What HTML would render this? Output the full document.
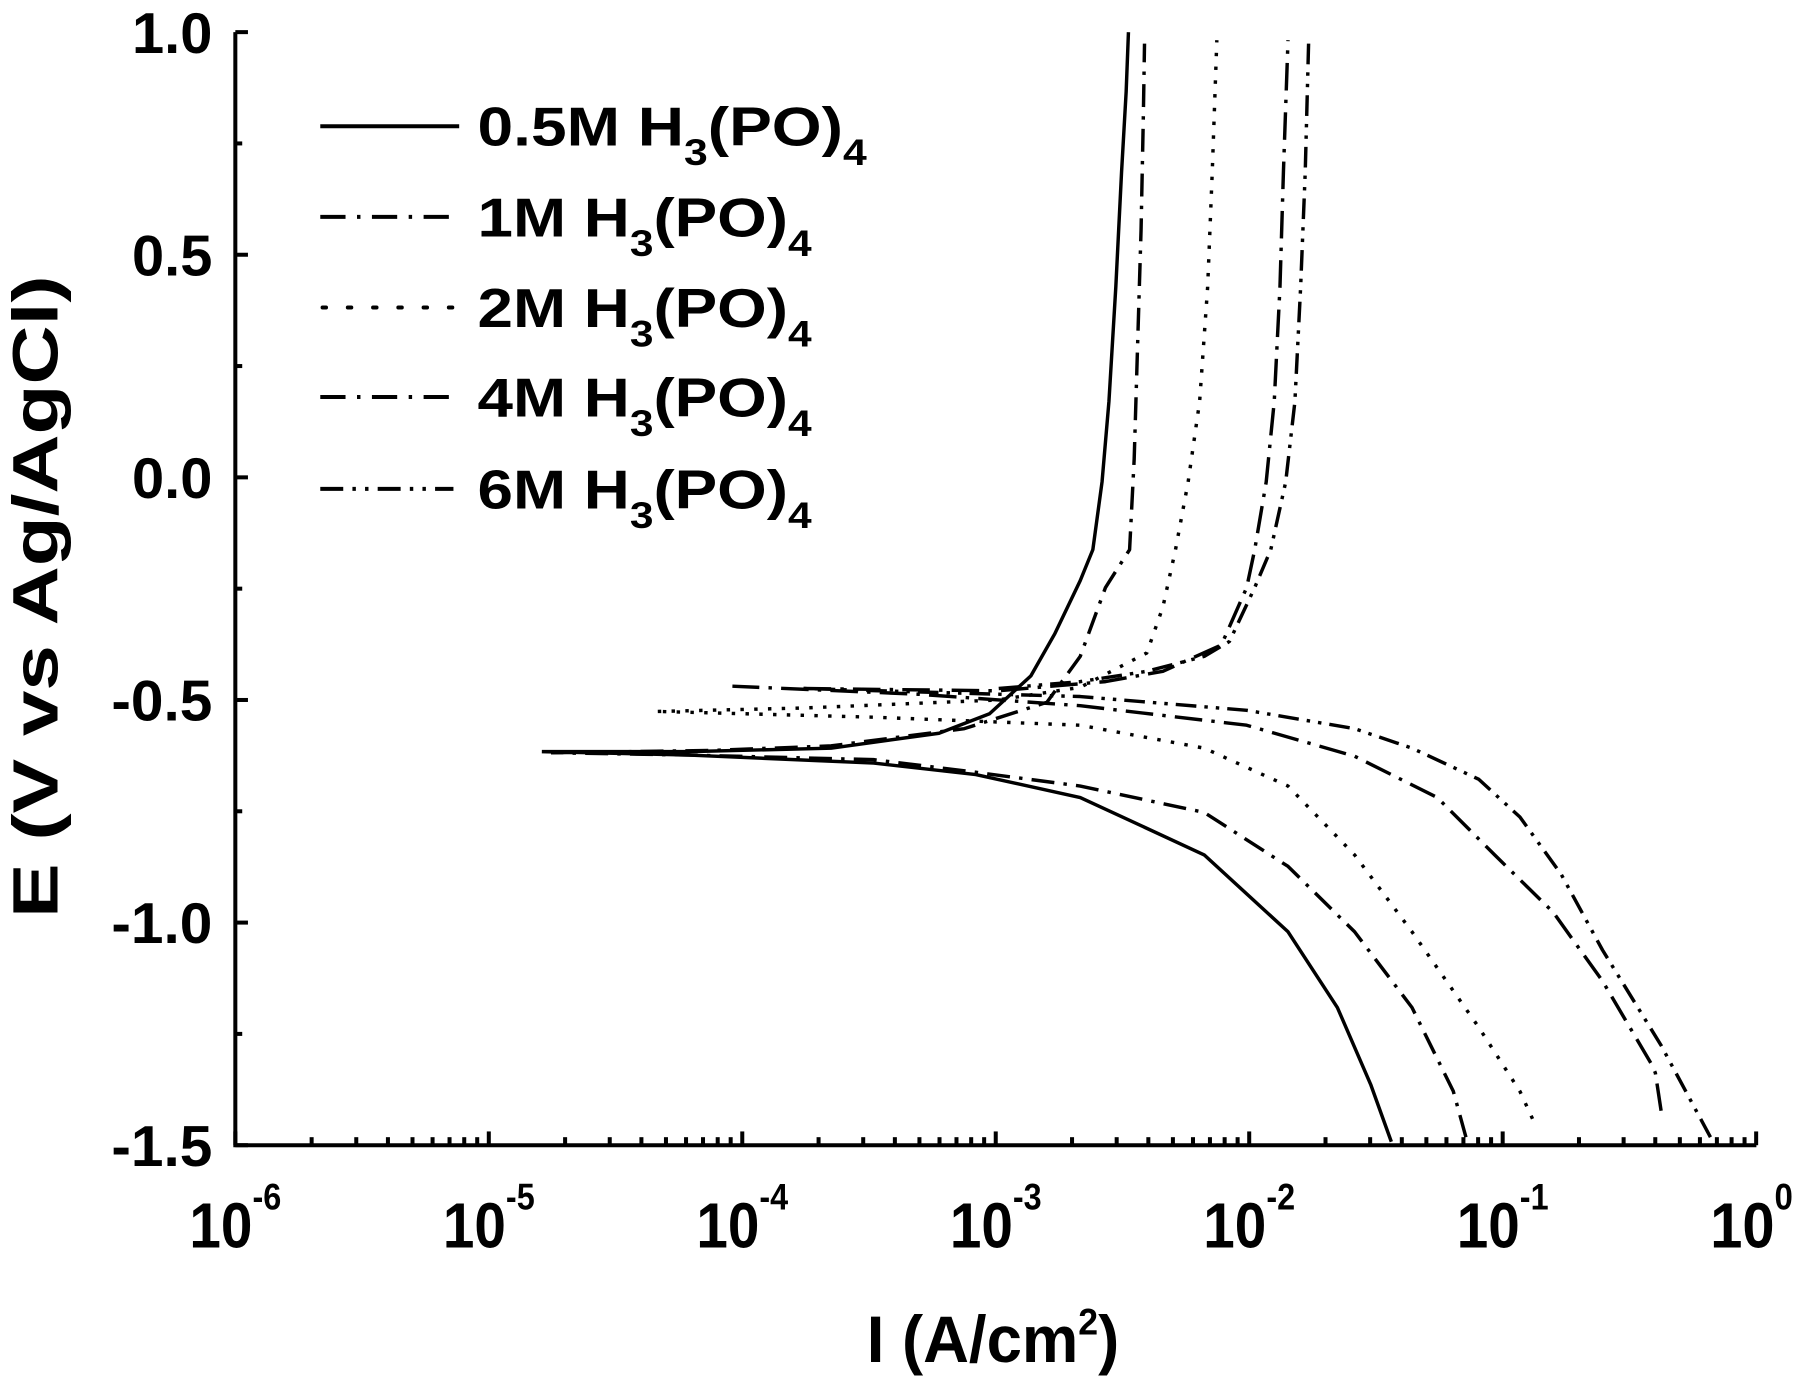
<!DOCTYPE html>
<html><head><meta charset="utf-8"><style>
html,body{margin:0;padding:0;background:#fff}
svg{display:block}
text{font-family:"Liberation Sans",Arial,sans-serif;font-weight:bold;fill:#000}
</style></head><body>
<svg id="s" width="1800" height="1377" viewBox="0 0 1568 1200" preserveAspectRatio="none">
<g fill="none" stroke="#000" stroke-width="3" stroke-linejoin="round">
<!-- 0.5M solid -->
<path d="M1212,995 L1194,945 1165,878 1122,812 1049,745 941,695 850,675 761,665 600,658 472,655 M472,655 L600,655 724,652 818,639 862,622 898,589 919,552 941,506 952,479 960,420 966,350 972,250 977,150 981,80 983,28"/>
<!-- 1M dash-dot -->
<path stroke-dasharray="20,8,3,8" d="M1277,991 L1266,951 1230,878 1180,812 1122,755 1049,708 941,685 850,673 761,662 600,658 480,656 M480,656 L620,654 724,650 840,635 912,612 941,572 963,512 984,479 988,400 991,300 994,200 996,100 997,38"/>
<!-- 2M dotted -->
<path stroke-dasharray="3,9" d="M1335,975 L1324,951 1288,895 1230,812 1180,745 1122,685 1049,652 941,632 761,625 573,620 M573,620 L700,617 869,610 941,599 999,569 1013,529 1024,479 1035,420 1045,350 1052,250 1056,150 1060,35"/>
<!-- 4M dash-dot -->
<path stroke-dasharray="24,8,3,8" d="M1447,968 L1442,935 1439,928 1396,855 1353,795 1302,745 1252,695 1180,659 1086,632 941,615 800,605 638,598 M700,600 L869,602 963,594 1013,585 1064,562 1086,512 1093,479 1103,420 1110,350 1115,250 1118,150 1122,35"/>
<!-- 6M dash-dot-dot -->
<path stroke-dasharray="18,7,3,7,3,7" d="M1490,991 L1476,965 1447,911 1396,828 1360,762 1324,712 1288,679 1230,652 1180,635 1086,619 941,607 800,603 700,600 M870,600 L941,594 999,585 1049,572 1071,559 1093,512 1107,479 1120,420 1128,350 1133,250 1137,150 1140,35"/>
</g>
<g id="ax" stroke="#000" stroke-width="3.5" fill="none">
<path d="M205,28 L205,998 L1530,998"/>
</g>
<!-- legend -->
<g stroke="#000" stroke-width="3.5" fill="none">
<line x1="279" y1="110" x2="400" y2="110"/>
<line x1="279" y1="189" x2="400" y2="189" stroke-dasharray="22,10,3,10"/>
<line x1="281" y1="268" x2="395" y2="268" stroke-dasharray="3,19" stroke-linecap="round"/>
<line x1="279" y1="346" x2="400" y2="346" stroke-dasharray="22,10,3,10"/>
<line x1="279" y1="426" x2="395" y2="426" stroke-dasharray="20,8,3,8,3,8"/>
</g>
<g font-size="48">
<text x="416" y="127" textLength="339" lengthAdjust="spacingAndGlyphs">0.5M H<tspan font-size="32" dy="17">3</tspan><tspan dy="-17">(PO)</tspan><tspan font-size="32" dy="17">4</tspan></text>
<text x="416" y="206" textLength="291" lengthAdjust="spacingAndGlyphs">1M H<tspan font-size="32" dy="17">3</tspan><tspan dy="-17">(PO)</tspan><tspan font-size="32" dy="17">4</tspan></text>
<text x="416" y="285" textLength="291" lengthAdjust="spacingAndGlyphs">2M H<tspan font-size="32" dy="17">3</tspan><tspan dy="-17">(PO)</tspan><tspan font-size="32" dy="17">4</tspan></text>
<text x="416" y="363" textLength="291" lengthAdjust="spacingAndGlyphs">4M H<tspan font-size="32" dy="17">3</tspan><tspan dy="-17">(PO)</tspan><tspan font-size="32" dy="17">4</tspan></text>
<text x="416" y="443" textLength="291" lengthAdjust="spacingAndGlyphs">6M H<tspan font-size="32" dy="17">3</tspan><tspan dy="-17">(PO)</tspan><tspan font-size="32" dy="17">4</tspan></text>
</g>
<g font-size="50" id="yl"></g>
<g font-size="56" id="xl"></g>
<text x="755" y="1187" font-size="57" textLength="220" lengthAdjust="spacingAndGlyphs">I (A/cm<tspan font-size="32" dy="-24">2</tspan><tspan dy="24">)</tspan></text>
<text transform="translate(50,520) rotate(-90)" font-size="56" text-anchor="middle" textLength="560" lengthAdjust="spacingAndGlyphs">E (V vs Ag/AgCl)</text>
</svg>
<script>
var NS="http://www.w3.org/2000/svg",ax=document.getElementById('ax'),yl=document.getElementById('yl'),xl=document.getElementById('xl');
function ln(a,b,c,d){var l=document.createElementNS(NS,'line');l.setAttribute('x1',a);l.setAttribute('y1',b);l.setAttribute('x2',c);l.setAttribute('y2',d);ax.appendChild(l);}
function tx(p,x,y,s,w){var t=document.createElementNS(NS,'text');t.setAttribute('x',x);t.setAttribute('y',y);if(w){t.setAttribute('textLength',w);t.setAttribute('lengthAdjust','spacingAndGlyphs');}t.innerHTML=s;p.appendChild(t);return t;}
var labs=["1.0","0.5","0.0","-0.5","-1.0","-1.5"];
for(var i=0;i<=10;i++){var y=28+i*97;ln(205,y,i%2?211:216,y);if(i%2==0){var L=labs[i/2],w=L[0]=='-'?88:70;tx(yl,185-w,y+18,L,w);}}
for(var d=0;d<=6;d++){var x=205+d*220.8;ln(x,998,x,986);
 tx(xl,x-40,1087,'10<tspan font-size="32" dy="-33">'+(d==6?'0':'-'+(6-d))+'</tspan>',d==6?72:80);
 if(d<6)for(var k=2;k<10;k++){var xx=x+220.8*Math.log10(k);ln(xx,998,xx,991);}}
</script>
</body></html>
